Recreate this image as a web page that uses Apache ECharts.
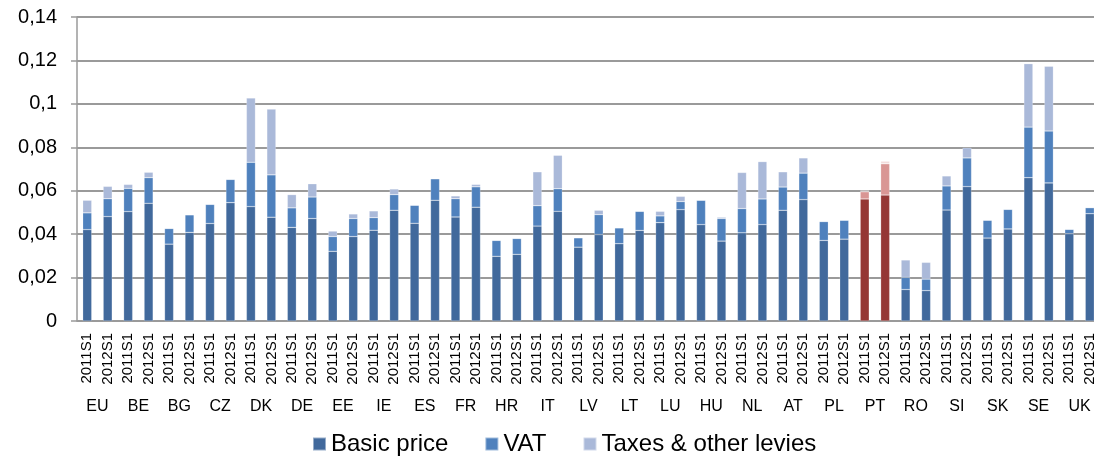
<!DOCTYPE html>
<html>
<head>
<meta charset="utf-8">
<script src="https://cdn.jsdelivr.net/npm/echarts@6/dist/echarts.min.js"></script>
<style>
  html, body { margin: 0; padding: 0; background: #fff; }
  #chart { width: 1094px; height: 456px; }
</style>
</head>
<body>
<div id="chart"></div>
<script>
// countries, two half-years each
var countries = ['EU', 'BE', 'BG', 'CZ', 'DK', 'DE', 'EE', 'IE', 'ES', 'FR', 'HR', 'IT', 'LV',
  'LT', 'LU', 'HU', 'NL', 'AT', 'PL', 'PT', 'RO', 'SI', 'SK', 'SE', 'UK']
var periods = ['2011S1', '2012S1']
var yTicks = [0, 0.02, 0.04, 0.06, 0.08, 0.1, 0.12, 0.14]

// values per bar, in country order, 2011S1 then 2012S1
var basicPrice = [
  0.0421, 0.0481, 0.0504, 0.0542, 0.0354, 0.0408, 0.0449, 0.0545, 0.0527, 0.0478,
  0.0431, 0.0472, 0.0321, 0.0389, 0.0418, 0.0510, 0.0450, 0.0556, 0.0479, 0.0524,
  0.0298, 0.0307, 0.0437, 0.0505, 0.0340, 0.0398, 0.0356, 0.0417, 0.0453, 0.0513,
  0.0444, 0.0368, 0.0406, 0.0444, 0.0510, 0.0559, 0.0371, 0.0377, 0.0562, 0.0580,
  0.0145, 0.0140, 0.0511, 0.0619, 0.0382, 0.0424, 0.0660, 0.0636, 0.0402, 0.0494
]
var vat = [
  0.0077, 0.0082, 0.0107, 0.0118, 0.0072, 0.0081, 0.0088, 0.0107, 0.0204, 0.0195,
  0.0090, 0.0099, 0.0068, 0.0083, 0.0058, 0.0072, 0.0083, 0.0099, 0.0084, 0.0094,
  0.0073, 0.0073, 0.0094, 0.0104, 0.0043, 0.0092, 0.0073, 0.0088, 0.0031, 0.0037,
  0.0112, 0.0104, 0.0112, 0.0118, 0.0107, 0.0122, 0.0087, 0.0087, 0.0033, 0.0144,
  0.0056, 0.0053, 0.0111, 0.0132, 0.0082, 0.0090, 0.0233, 0.0239, 0.0020, 0.0028
]
var taxesLevies = [
  0.0058, 0.0057, 0.0018, 0.0025, 0, 0, 0, 0, 0.0296, 0.0303,
  0.0061, 0.0061, 0.0025, 0.0021, 0.0031, 0.0026, 0, 0, 0.0013, 0.0011,
  0, 0, 0.0156, 0.0154, 0.0002, 0.0020, 0, 0, 0.0021, 0.0024,
  0, 0.0006, 0.0166, 0.0172, 0.0070, 0.0070, 0, 0, 0.0006, 0.0012,
  0.0080, 0.0077, 0.0046, 0.0047, 0, 0, 0.0292, 0.0298, 0, 0
]

var highlight = 'PT'
var blues = ['#41699c', '#4f81bd', '#aab9d9']
var reds = ['#953735', '#d99694', '#f2dcdb']

var barLabels = []
countries.forEach(function () {
  periods.forEach(function (p) { barLabels.push(p) })
})

function buildData(values, k) {
  return values.map(function (v, i) {
    var c = countries[Math.floor(i / 2)]
    if (c === highlight) {
      return { value: v, itemStyle: { color: reds[k] } }
    }
    return v
  })
}

var font = 'Liberation Sans, Arial, sans-serif'
var lineGray = '#9a9a9a'

var chart = echarts.init(document.getElementById('chart'))
var names = ['Basic price', 'VAT', 'Taxes & other levies']
var seriesVals = [basicPrice, vat, taxesLevies]

chart.setOption({
  animation: false,
  textStyle: { fontFamily: font },
  // plot runs a little past the right edge, as in the source image
  grid: { left: 77, width: 1023, top: 17, bottom: 135, containLabel: false, outerBoundsMode: 'none' },
  legend: {
    data: names,
    left: 307,
    top: 427,
    icon: 'rect',
    itemWidth: 13,
    itemHeight: 13,
    itemGap: 36,
    textStyle: { fontSize: 24, color: '#000', fontFamily: font }
  },
  xAxis: [
    {
      type: 'category',
      data: barLabels,
      axisLine: { lineStyle: { color: lineGray, width: 1.5 } },
      axisTick: { interval: 0, length: 66, lineStyle: { color: lineGray, width: 1.5 } },
      axisLabel: { interval: 0, rotate: 90, fontSize: 15, color: '#000', margin: 12 }
    },
    {
      type: 'category',
      data: countries,
      position: 'bottom',
      offset: 0,
      axisLine: { show: false },
      axisTick: { interval: 0, length: 96, lineStyle: { color: lineGray, width: 1.5 } },
      axisLabel: { interval: 0, fontSize: 16, color: '#000', margin: 78 }
    }
  ],
  yAxis: {
    type: 'value',
    min: yTicks[0],
    max: yTicks[yTicks.length - 1],
    interval: 0.02,
    axisLine: { show: true, lineStyle: { color: lineGray, width: 1.5 } },
    axisTick: { show: true, length: 6, lineStyle: { color: lineGray, width: 1.5 } },
    splitLine: { lineStyle: { color: lineGray, width: 2 } },
    axisLabel: {
      fontSize: 20,
      color: '#000',
      margin: 20,
      formatter: function (v) { return String(Math.round(v * 100) / 100).replace('.', ',') }
    }
  },
  series: names.map(function (n, k) {
    return {
      name: n,
      type: 'bar',
      stack: 'price',
      xAxisIndex: 0,
      barWidth: 9,
      itemStyle: { color: blues[k], borderColor: 'rgba(255,255,255,0.45)', borderWidth: 0.5 },
      data: buildData(seriesVals[k], k)
    }
  })
})
</script>
</body>
</html>
